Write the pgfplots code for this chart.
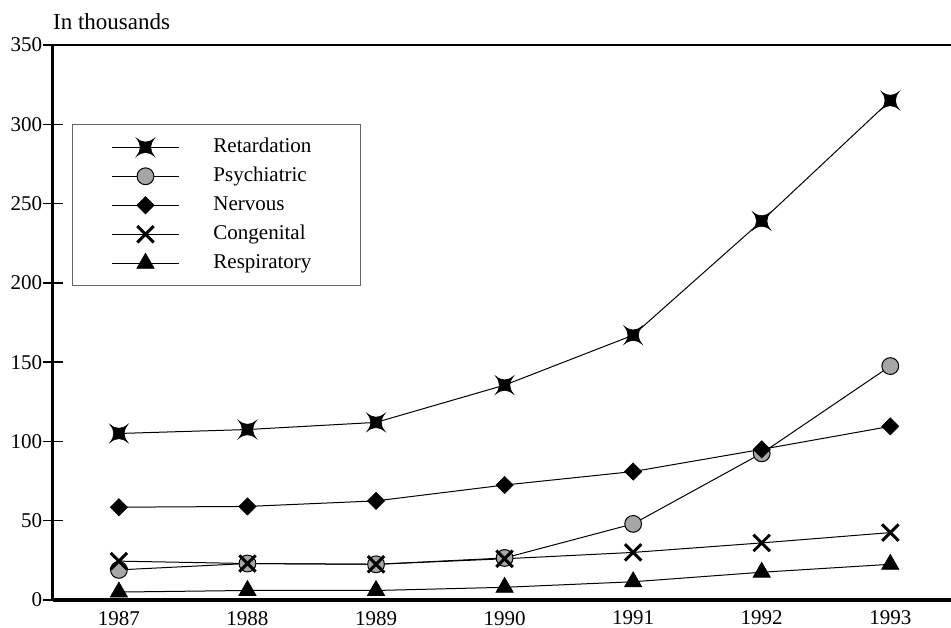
\documentclass[border=0pt]{standalone}
\usepackage{pgfplots}
\pgfplotsset{compat=1.18}
\usetikzlibrary{plotmarks}
\usepackage{fontspec}
\setmainfont{Liberation Serif}

\pgfdeclareplotmark{fourstar}{%
\pgfpathmoveto{\pgfqpoint{0.707\pgfplotmarksize}{0.707\pgfplotmarksize}}%
\pgfpathquadraticcurveto{\pgfqpoint{0pt}{0.12\pgfplotmarksize}}{\pgfqpoint{-0.707\pgfplotmarksize}{0.707\pgfplotmarksize}}%
\pgfpathquadraticcurveto{\pgfqpoint{-0.12\pgfplotmarksize}{0pt}}{\pgfqpoint{-0.707\pgfplotmarksize}{-0.707\pgfplotmarksize}}%
\pgfpathquadraticcurveto{\pgfqpoint{0pt}{-0.12\pgfplotmarksize}}{\pgfqpoint{0.707\pgfplotmarksize}{-0.707\pgfplotmarksize}}%
\pgfpathquadraticcurveto{\pgfqpoint{0.12\pgfplotmarksize}{0pt}}{\pgfqpoint{0.707\pgfplotmarksize}{0.707\pgfplotmarksize}}%
\pgfpathclose\pgfusepathqfillstroke}

\begin{document}
\begin{tikzpicture}
\begin{axis}[
  scale only axis,
  width=449pt, height=277.5pt,
  xmin=1986.485, xmax=1993.47,
  ymin=0, ymax=350,
  axis x line*=bottom, axis y line*=left,
  x axis line style={line width=1.6pt, -},
  y axis line style={line width=1.35pt, -},
  xtick={1987,1988,1989,1990,1991,1992,1993},
  ytick={0,50,100,150,200,250,300,350},
  x tick label style={/pgf/number format/1000 sep={}},
  /pgf/number format/assume math mode=true,
  ticklabel style={font=\fontsize{10.5}{12}\selectfont},
  xtick style={draw=none},
  ytick style={line width=0.7pt, black},
  tick align=center,
  major tick length=10pt,
  xticklabel style={yshift=3pt},
  yticklabel style={xshift=3.2pt},
  clip=false,
  legend style={at={(axis cs:1986.635,300)}, anchor=north west,
    draw=black!60, line width=0.5pt, inner xsep=19.5pt, inner ysep=4pt,
    font=\fontsize{10.5}{12}\selectfont,
    nodes={text height=8pt, text depth=2.5pt, inner sep=2pt},
    /tikz/every odd column/.append style={column sep=15pt}},
  legend cell align=left,
  legend image code/.code={\draw[mark repeat=2,mark phase=2] plot coordinates {(0pt,0pt) (16.75pt,0pt) (33.5pt,0pt)};},
  every axis plot/.append style={line width=0.5pt, black},
]
\addplot[mark=fourstar, mark size=6.3pt, mark options={fill=black, line width=0.3pt}] coordinates
  {(1987,105) (1988,107.5) (1989,112) (1990,135.5) (1991,167) (1992,239) (1993,315)};
\addlegendentry{Retardation\hspace*{3pt}}
\addplot[mark=*, mark size=4.2pt, mark options={fill=black!35, draw=black, line width=0.5pt}] coordinates
  {(1987,19) (1988,23) (1989,22.5) (1990,26.5) (1991,48) (1992,92.5) (1993,147.5)};
\addlegendentry{Psychiatric}
\addplot[mark=square*, mark size=3.05pt, mark options={rotate=45, fill=black, line width=0.3pt}] coordinates
  {(1987,58.5) (1988,59) (1989,62.5) (1990,72.5) (1991,81) (1992,95) (1993,109.5)};
\addlegendentry{Nervous}
\addplot[mark=x, mark size=5.8pt, mark options={line width=1.5pt}] coordinates
  {(1987,24.5) (1988,23) (1989,22.5) (1990,26) (1991,30) (1992,36) (1993,42.5)};
\addlegendentry{Congenital}
\addplot[mark=triangle*, mark size=5pt, mark options={fill=black, line width=0.3pt}] coordinates
  {(1987,5) (1988,6) (1989,6) (1990,8) (1991,11.5) (1992,17.5) (1993,22.5)};
\addlegendentry{Respiratory}
\draw[line width=1pt] (rel axis cs:0,1) -- (rel axis cs:1,1);
\node[anchor=base west, inner sep=0pt, font=\fontsize{11.5}{13}\selectfont] at ([yshift=7.5pt]rel axis cs:0,1) {In thousands};
\end{axis}
\pgfresetboundingbox
\path[use as bounding box] ([shift={(-26.35pt,-14pt)}]current axis.south west) rectangle ([shift={(0.15pt,22.5pt)}]current axis.north east);
\end{tikzpicture}
\end{document}
